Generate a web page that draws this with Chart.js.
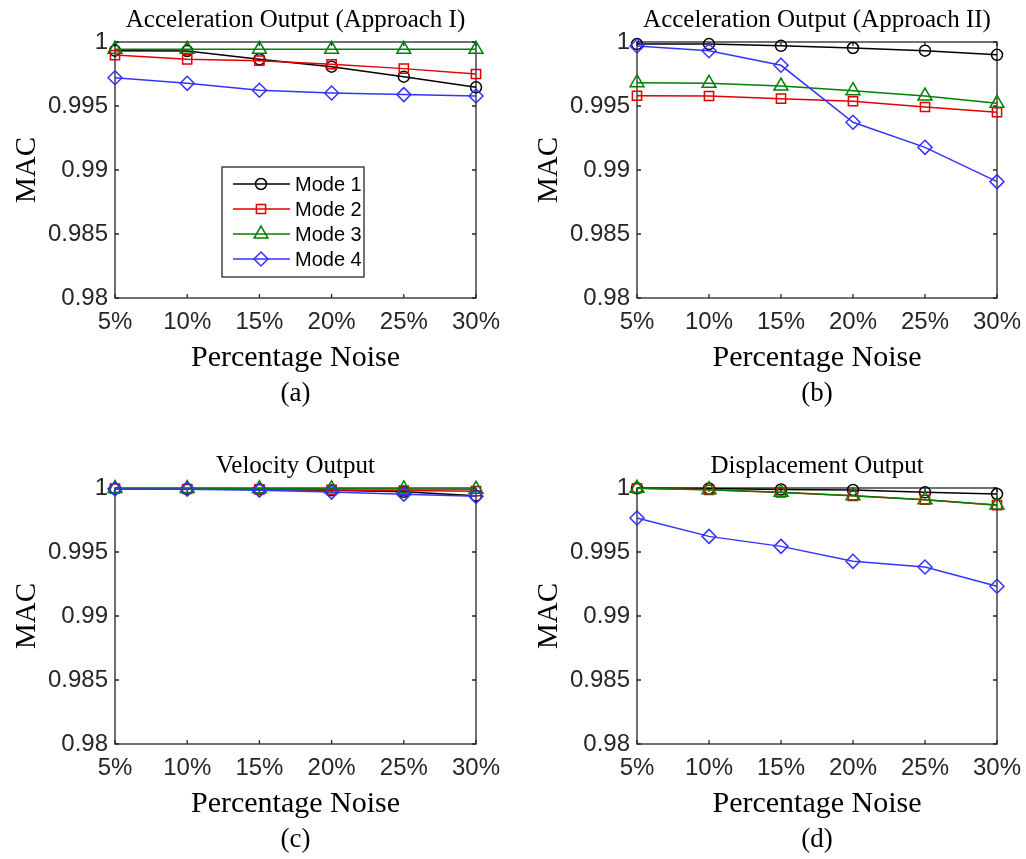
<!DOCTYPE html>
<html>
<head>
<meta charset="utf-8">
<script src="https://cdn.jsdelivr.net/npm/chart.js@4.4.1/dist/chart.umd.min.js"></script>
<style>
  html, body { margin: 0; padding: 0; background: #fff; }
  #wrap { position: relative; width: 1026px; height: 859px; }
  canvas { position: absolute; }
</style>
</head>
<body>
<div id="wrap">
  <canvas id="cA" width="513" height="430" style="left:0;top:0"></canvas>
  <canvas id="cB" width="513" height="430" style="left:513px;top:0"></canvas>
  <canvas id="cC" width="513" height="429" style="left:0;top:430px"></canvas>
  <canvas id="cD" width="513" height="429" style="left:513px;top:430px"></canvas>
</div>
<script>
const noiseLevels = ['5%', '10%', '15%', '20%', '25%', '30%'];
const macTicks = [0.98, 0.985, 0.99, 0.995, 1];

const modeNames = ['Mode 1', 'Mode 2', 'Mode 3', 'Mode 4'];
const modeColors = ['#000000', '#e00000', '#008000', '#3333ff'];
const modeMarkers = ['circle', 'rect', 'triangle', 'rectRot'];
const markerRadius = [5.5, 6.5, 8, 7];

// (a) acceleration output, approach I
const accI_mode1 = [0.99932, 0.9993, 0.99865, 0.99807, 0.99729, 0.99646];
const accI_mode2 = [0.99898, 0.99865, 0.99854, 0.99826, 0.99792, 0.9975];
const accI_mode3 = [0.99943, 0.99943, 0.99943, 0.99943, 0.99943, 0.99943];
const accI_mode4 = [0.99721, 0.99677, 0.99623, 0.99602, 0.99589, 0.99578];

// (b) acceleration output, approach II
const accII_mode1 = [0.99984, 0.99984, 0.9997, 0.99953, 0.99932, 0.999];
const accII_mode2 = [0.9958, 0.99578, 0.99557, 0.99537, 0.99492, 0.99451];
const accII_mode3 = [0.99682, 0.99677, 0.99656, 0.9962, 0.99578, 0.99521];
const accII_mode4 = [0.99969, 0.99932, 0.99818, 0.99373, 0.99177, 0.98909];

// (c) velocity output
const vel_mode1 = [0.99995, 0.99993, 0.9999, 0.99982, 0.9997, 0.9994];
const vel_mode2 = [0.99995, 0.99992, 0.9999, 0.99985, 0.9998, 0.99975];
const vel_mode3 = [0.99997, 0.99996, 0.99995, 0.99994, 0.99993, 0.9999];
const vel_mode4 = [0.99993, 0.9999, 0.99982, 0.99968, 0.99952, 0.99935];

// (d) displacement output
const disp_mode1 = [0.99998, 0.99996, 0.99988, 0.99985, 0.99966, 0.99953];
const disp_mode2 = [0.99998, 0.99986, 0.99965, 0.99939, 0.99908, 0.99866];
const disp_mode3 = [0.99998, 0.99987, 0.99966, 0.9994, 0.99909, 0.99867];
const disp_mode4 = [0.99766, 0.99622, 0.99544, 0.99427, 0.99383, 0.99232];

const SERIF = '"Liberation Serif", "Times New Roman", serif';
const SANS = '"Liberation Sans", Arial, sans-serif';
const AXIS = '#262626';

function drawMarker(ctx, style, r, x, y) {
  ctx.beginPath();
  if (style === 'circle') {
    ctx.arc(x, y, r, 0, Math.PI * 2);
  } else if (style === 'rect') {
    const s = r * Math.SQRT1_2;
    ctx.rect(x - s, y - s, 2 * s, 2 * s);
  } else if (style === 'triangle') {
    ctx.moveTo(x, y - r);
    ctx.lineTo(x + r * Math.sin(Math.PI / 3), y + r / 2);
    ctx.lineTo(x - r * Math.sin(Math.PI / 3), y + r / 2);
    ctx.closePath();
  } else {
    ctx.moveTo(x, y - r);
    ctx.lineTo(x + r, y);
    ctx.lineTo(x, y + r);
    ctx.lineTo(x - r, y);
    ctx.closePath();
  }
  ctx.stroke();
}

// box, inward ticks, titles, labels and legend
const framePlugin = {
  id: 'frame',
  beforeDatasetsDraw(chart, args, opts) {
    const { ctx, chartArea: a, scales } = chart;
    ctx.save();
    ctx.strokeStyle = AXIS;
    ctx.lineWidth = 1.3;
    ctx.strokeRect(a.left, a.top, a.right - a.left, a.bottom - a.top);
    ctx.beginPath();
    noiseLevels.forEach((_, i) => {
      const x = scales.x.getPixelForValue(i);
      ctx.moveTo(x, a.bottom); ctx.lineTo(x, a.bottom - 4);
      ctx.moveTo(x, a.top); ctx.lineTo(x, a.top + 4);
    });
    macTicks.forEach(v => {
      const y = scales.y.getPixelForValue(v);
      ctx.moveTo(a.left, y); ctx.lineTo(a.left + 4, y);
      ctx.moveTo(a.right, y); ctx.lineTo(a.right - 4, y);
    });
    ctx.stroke();
    ctx.restore();
  },
  afterDraw(chart, args, opts) {
    const { ctx, chartArea: a } = chart;
    const cx = (a.left + a.right) / 2;
    const cy = (a.top + a.bottom) / 2;
    ctx.save();
    ctx.fillStyle = '#000';
    ctx.textAlign = 'center';
    ctx.textBaseline = 'alphabetic';
    ctx.font = '25px ' + SERIF;
    ctx.fillText(opts.title, cx, a.top - 15);
    ctx.font = '30px ' + SERIF;
    ctx.fillText('Percentage Noise', cx, a.bottom + 68);
    ctx.font = '27px ' + SERIF;
    ctx.fillText(opts.caption, cx, a.bottom + 103);
    ctx.save();
    ctx.translate(a.left - 80, cy);
    ctx.rotate(-Math.PI / 2);
    ctx.font = '29px ' + SERIF;
    ctx.fillText('MAC', 0, 0);
    ctx.restore();

    if (opts.legend) {
      const lx = a.left + 107, ly = a.top + 125, lw = 142, lh = 110;
      ctx.fillStyle = '#fff';
      ctx.fillRect(lx, ly, lw, lh);
      ctx.strokeStyle = AXIS;
      ctx.lineWidth = 1.3;
      ctx.strokeRect(lx, ly, lw, lh);
      ctx.font = '20px ' + SANS;
      ctx.textAlign = 'left';
      ctx.textBaseline = 'middle';
      chart.data.datasets.forEach((ds, i) => {
        const y = ly + 17 + i * 25;
        ctx.strokeStyle = ds.borderColor;
        ctx.lineWidth = 1.5;
        ctx.beginPath();
        ctx.moveTo(lx + 11, y); ctx.lineTo(lx + 68, y);
        ctx.stroke();
        drawMarker(ctx, ds.pointStyle, ds.pointRadius, lx + 39, y);
        ctx.fillStyle = '#000';
        ctx.fillText(ds.label, lx + 73, y + 1);
      });
    }
    ctx.restore();
  }
};

function makeChart(id, series, title, caption, pad, legend) {
  const datasets = series.map((vals, i) => ({
    label: modeNames[i],
    data: vals,
    borderColor: modeColors[i],
    backgroundColor: 'rgba(0,0,0,0)',
    borderWidth: 1.5,
    pointStyle: modeMarkers[i],
    pointRadius: markerRadius[i],
    pointBorderWidth: 1.5,
    pointBackgroundColor: 'rgba(0,0,0,0)',
    pointBorderColor: modeColors[i],
    tension: 0,
    clip: false,
    order: 4 - i
  }));
  return new Chart(document.getElementById(id), {
    type: 'line',
    data: { labels: noiseLevels, datasets },
    plugins: [framePlugin],
    options: {
      responsive: false,
      animation: false,
      events: [],
      layout: { padding: pad },
      plugins: {
        legend: { display: false },
        tooltip: { enabled: false },
        frame: { title, caption, legend }
      },
      scales: {
        x: {
          type: 'category',
          offset: false,
          grid: { display: false, drawTicks: false },
          border: { display: false },
          ticks: { color: AXIS, font: { family: SANS, size: 24 }, padding: 10, maxRotation: 0, autoSkip: false },
          afterFit: s => { s.height = 100; s.paddingLeft = 0; s.paddingRight = 0; }
        },
        y: {
          min: 0.98,
          max: 1,
          grid: { display: false, drawTicks: false },
          border: { display: false },
          afterBuildTicks: s => { s.ticks = macTicks.map(v => ({ value: v })); },
          ticks: {
            color: AXIS,
            font: { family: SANS, size: 24 },
            padding: 7,
            callback: v => String(v)
          },
          afterFit: s => { s.width = 115; s.paddingTop = 0; s.paddingBottom = 0; }
        }
      }
    }
  });
}

makeChart('cA', [accI_mode1, accI_mode2, accI_mode3, accI_mode4],
  'Acceleration Output (Approach I)', '(a)',
  { left: 0, top: 42, right: 37, bottom: 32 }, true);
makeChart('cB', [accII_mode1, accII_mode2, accII_mode3, accII_mode4],
  'Acceleration Output (Approach II)', '(b)',
  { left: 9, top: 42, right: 29, bottom: 32 }, false);
makeChart('cC', [vel_mode1, vel_mode2, vel_mode3, vel_mode4],
  'Velocity Output', '(c)',
  { left: 0, top: 58, right: 37, bottom: 15 }, false);
makeChart('cD', [disp_mode1, disp_mode2, disp_mode3, disp_mode4],
  'Displacement Output', '(d)',
  { left: 9, top: 58, right: 29, bottom: 15 }, false);
</script>
</body>
</html>
